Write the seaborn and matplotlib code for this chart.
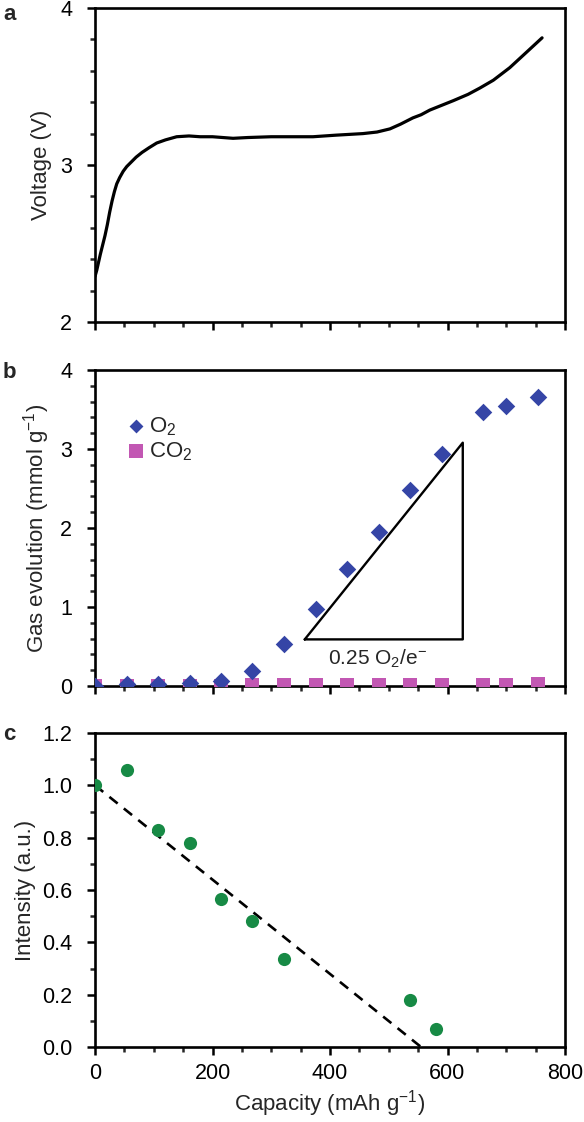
import matplotlib
matplotlib.use("Agg")
import matplotlib.pyplot as plt
import seaborn as sns
import numpy as np

# --- panel a: charge voltage profile
cap_v = [0, 3, 6, 9, 13, 17, 21, 25, 29, 33, 37, 42, 48, 54, 62, 70, 80, 92, 105, 120,
         139, 160, 179, 200, 235, 260, 300, 349, 371, 410, 456, 480, 502, 520, 541, 555,
         570, 590, 610, 635, 655, 678, 706, 735, 761]
voltage = [2.29, 2.33, 2.38, 2.43, 2.49, 2.55, 2.62, 2.70, 2.77, 2.83, 2.88, 2.92, 2.96,
           2.99, 3.02, 3.05, 3.08, 3.11, 3.14, 3.16, 3.18, 3.185, 3.18, 3.18, 3.17, 3.175,
           3.18, 3.18, 3.18, 3.19, 3.20, 3.21, 3.23, 3.26, 3.30, 3.32, 3.35, 3.38, 3.41,
           3.45, 3.49, 3.54, 3.62, 3.72, 3.81]

# --- panel b: gas evolution
cap_gas = [0, 54, 107, 161, 214, 268, 322, 376, 429, 483, 537, 590, 660, 700, 754]
o2 = [0.0, 0.02, 0.03, 0.04, 0.06, 0.19, 0.53, 0.98, 1.48, 1.95, 2.48, 2.94, 3.47, 3.55, 3.66]
co2 = [0.0, 0.0, 0.0, 0.0, 0.0, 0.01, 0.01, 0.01, 0.01, 0.01, 0.01, 0.01, 0.01, 0.01, 0.03]
# slope triangle (0.25 O2 per electron)
tri_x = [357, 626, 626, 357]
tri_y = [0.59, 3.08, 0.59, 0.59]

# --- panel c: intensity
cap_int = [0, 54, 107, 161, 214, 268, 322, 537, 580]
intensity = [1.00, 1.06, 0.83, 0.78, 0.565, 0.48, 0.335, 0.18, 0.07]
fit_x = [0, 555]
fit_y = [1.0, 0.0]

blue = "#3545A6"
pink = "#C257B3"
green = "#178A45"

sns.set_style("ticks")
plt.rcParams["font.family"] = ["Liberation Sans", "DejaVu Sans"]
plt.rcParams["mathtext.fontset"] = "custom"
plt.rcParams["mathtext.rm"] = "Liberation Sans"
plt.rcParams["mathtext.it"] = "Liberation Sans"
fs = 16    # axis labels
tfs = 15.5  # tick labels

fig = plt.figure(figsize=(5.84, 11.22), dpi=100)
L, W, H = 95 / 584, 470 / 584, 314 / 1122
ax_a = fig.add_axes([L, (1122 - 322) / 1122, W, H])
ax_b = fig.add_axes([L, (1122 - 686) / 1122, W, 316 / 1122])
ax_c = fig.add_axes([L, (1122 - 1047) / 1122, W, H])


def style(ax):
    for sp in ax.spines.values():
        sp.set_linewidth(1.9)
        sp.set_color("black")
    ax.tick_params(which="major", direction="out", length=5.5, width=1.8, labelsize=tfs,
                   colors="black")
    ax.tick_params(which="minor", direction="out", length=3.6, width=1.8)
    ax.tick_params(axis="y", which="major", pad=11)
    ax.tick_params(axis="x", which="major", pad=6)
    ax.set_xlim(0, 800)
    ax.set_xticks(np.arange(0, 801, 200))
    ax.set_xticks(np.arange(0, 801, 50), minor=True)


# a
sns.lineplot(x=cap_v, y=voltage, ax=ax_a, color="black", linewidth=2.3, sort=False)
style(ax_a)
ax_a.set_ylim(2, 4)
ax_a.set_yticks([2, 3, 4])
ax_a.set_yticks(np.arange(2, 4.01, 0.2), minor=True)
ax_a.tick_params(axis="x", labelbottom=False)
ax_a.set_ylabel("Voltage (V)", fontsize=fs, labelpad=6)

# b
sns.scatterplot(x=cap_gas, y=co2, ax=ax_b, marker="s", s=105, color=pink, linewidth=0,
                label="CO$_2$", zorder=3)
sns.scatterplot(x=cap_gas, y=o2, ax=ax_b, marker="D", s=80, color=blue, linewidth=0,
                label="O$_2$", zorder=4)
ax_b.plot(tri_x, tri_y, color="black", linewidth=1.7, zorder=2)
ax_b.text(480, 0.35, "0.25 O$_2$/e$^{\u2212}$", fontsize=15, ha="center", va="center")
style(ax_b)
ax_b.set_ylim(0, 4)
ax_b.set_yticks([0, 1, 2, 3, 4])
ax_b.set_yticks(np.arange(0, 4.01, 0.2), minor=True)
ax_b.tick_params(axis="x", labelbottom=False)
ax_b.set_ylabel("Gas evolution (mmol g$^{\u22121}$)", fontsize=fs, labelpad=6)
h, l = ax_b.get_legend_handles_labels()
leg = ax_b.legend(h[::-1], l[::-1], loc="upper left", bbox_to_anchor=(0.04, 0.885),
                  frameon=False, fontsize=fs, handletextpad=0.0, borderaxespad=0,
                  labelspacing=0.1, handlelength=1.2)
leg.legend_handles[0].set_sizes([50])
leg.legend_handles[1].set_sizes([100])

# c
sns.lineplot(x=fit_x, y=fit_y, ax=ax_c, color="black", linewidth=1.9, linestyle=(0, (4, 3)))
sns.scatterplot(x=cap_int, y=intensity, ax=ax_c, s=90, color=green, linewidth=0, zorder=3)
style(ax_c)
ax_c.set_ylim(0, 1.2)
ax_c.set_yticks(np.arange(0, 1.21, 0.2))
ax_c.set_yticks(np.arange(0, 1.21, 0.1), minor=True)
ax_c.yaxis.set_major_formatter(matplotlib.ticker.FormatStrFormatter("%.1f"))
ax_c.set_ylabel("Intensity (a.u.)", fontsize=fs, labelpad=4)
ax_c.set_xlabel("Capacity (mAh g$^{\u22121}$)", fontsize=fs, labelpad=3)

for lab, yp in [("a", 15), ("b", 372), ("c", 735)]:
    fig.text(3 / 584, 1 - yp / 1122, lab, fontsize=fs, fontweight="bold", va="center", ha="left")

fig.savefig("out.png", dpi=100)
